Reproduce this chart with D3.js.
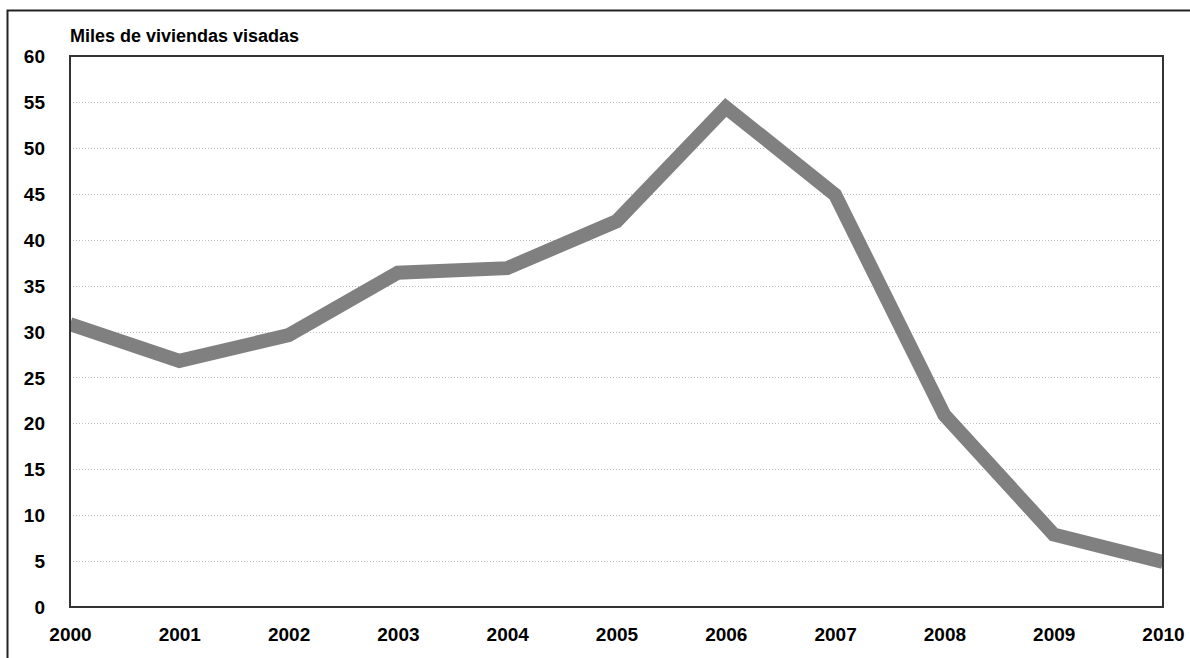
<!DOCTYPE html>
<html>
<head>
<meta charset="utf-8">
<script src="https://cdn.jsdelivr.net/npm/d3@7"></script>
<style>
  body { margin: 0; background: #fff; }
  text { font-family: "Liberation Sans", Arial, sans-serif; font-weight: bold; fill: #000; }
</style>
</head>
<body>
<div id="chart"></div>
<script>
// Data
const years = [2000, 2001, 2002, 2003, 2004, 2005, 2006, 2007, 2008, 2009, 2010];
const visadas = [30.8, 26.8, 29.6, 36.4, 36.9, 42.0, 54.4, 44.9, 20.9, 7.9, 4.9];
const yTicks = [0, 5, 10, 15, 20, 25, 30, 35, 40, 45, 50, 55, 60];
const title = "Miles de viviendas visadas";

const w = 1190, h = 658;
const mg = { left: 70, right: 27, top: 56, bottom: 51 };

const svg = d3.select('#chart')
  .append('svg')
  .attr('width', w)
  .attr('height', h);

// outer frame (runs off the right / bottom edge)
svg.append('rect')
  .attr('x', 7.5).attr('y', 10.5)
  .attr('width', w + 10).attr('height', h + 10)
  .attr('fill', 'none')
  .attr('stroke', '#222')
  .attr('stroke-width', 2);

const x = d3.scaleLinear()
  .domain([years[0], years[years.length - 1]])
  .range([mg.left, w - mg.right]);

const y = d3.scaleLinear()
  .domain([0, 60])
  .range([h - mg.bottom, mg.top]);

// dotted gridlines
svg.append('g')
  .selectAll('line')
  .data(yTicks.filter(d => d > 0 && d < 60))
  .join('line')
  .attr('x1', mg.left).attr('x2', w - mg.right)
  .attr('y1', d => Math.round(y(d)) + 0.5)
  .attr('y2', d => Math.round(y(d)) + 0.5)
  .attr('stroke', '#bdbdbd')
  .attr('stroke-width', 1)
  .attr('stroke-dasharray', '1,2');

// clip so the thick line stops at the plot edges
svg.append('clipPath').attr('id', 'plot-clip')
  .append('rect')
  .attr('x', mg.left).attr('y', mg.top)
  .attr('width', w - mg.right - mg.left)
  .attr('height', h - mg.bottom - mg.top);

const line = d3.line()
  .x((d, i) => x(years[i]))
  .y(d => y(d));

svg.append('path')
  .attr('clip-path', 'url(#plot-clip)')
  .attr('d', line(visadas))
  .attr('fill', 'none')
  .attr('stroke', '#808080')
  .attr('stroke-width', 14)
  .attr('stroke-linejoin', 'miter');

// plot frame
svg.append('rect')
  .attr('x', mg.left).attr('y', mg.top)
  .attr('width', w - mg.right - mg.left)
  .attr('height', h - mg.bottom - mg.top)
  .attr('fill', 'none')
  .attr('stroke', '#333')
  .attr('stroke-width', 2);

// y axis labels
const yAxis = d3.axisLeft(y).tickValues(yTicks).tickSize(0).tickPadding(25);
svg.append('g')
  .attr('transform', `translate(${mg.left},0)`)
  .call(yAxis)
  .call(g => g.select('.domain').remove())
  .selectAll('text')
  .style('font-size', '19px')
  .attr('dy', '0.35em');

// x axis labels
const xAxis = d3.axisBottom(x).tickValues(years).tickFormat(d3.format('d')).tickSize(0).tickPadding(21);
svg.append('g')
  .attr('transform', `translate(0,${h - mg.bottom})`)
  .call(xAxis)
  .call(g => g.select('.domain').remove())
  .selectAll('text')
  .style('font-size', '19px');

svg.append('text')
  .attr('x', mg.left)
  .attr('y', 42)
  .style('font-size', '18px')
  .text(title);
</script>
</body>
</html>
